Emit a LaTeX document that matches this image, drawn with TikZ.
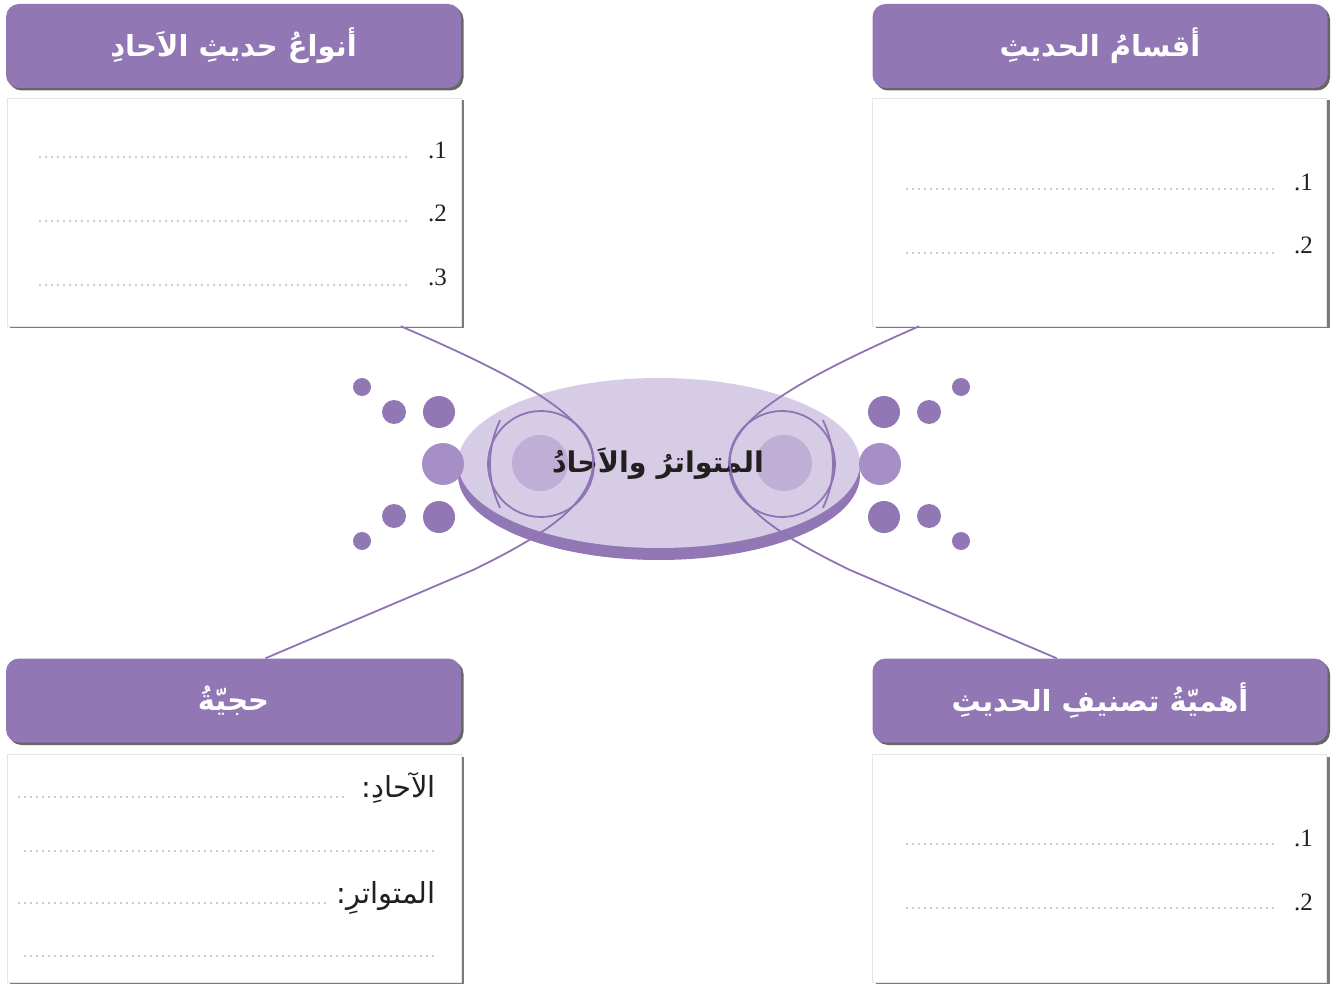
\documentclass[tikz,border=0pt]{standalone}
\usepackage{fontspec}
\usetikzlibrary{shapes.geometric,shadows,calc}
\TeXXeTstate=1
\newfontfamily\arabicfont[Script=Arabic]{DejaVu Sans}
\newfontfamily\numfont{Liberation Serif}
\definecolor{hdrpurple}{HTML}{9277B5}
\definecolor{ellfill}{HTML}{D6CCE5}
\definecolor{innerfill}{HTML}{BFAED5}
\definecolor{middot}{HTML}{A68FC6}
\definecolor{linepurple}{HTML}{8F73B3}
\definecolor{dotgray}{HTML}{9A9A9A}
\definecolor{ink}{HTML}{231F20}
\tikzset{
  hdrbox/.style={rounded corners=13pt, fill=hdrpurple, minimum width=455pt, minimum height=84pt, inner sep=0pt, text=white,
    font=\arabicfont\bfseries\fontsize{29}{34}\selectfont,
    drop shadow={shadow xshift=2.5pt, shadow yshift=-2.5pt, opacity=0.6, fill=black}},
  bodybox/.style={fill=white, draw=black!10, line width=0.6pt, minimum width=454pt, minimum height=228pt, inner sep=0pt,
    drop shadow={shadow xshift=3pt, shadow yshift=-2.5pt, opacity=0.65, fill=black!80}},
  dotline/.style={draw=dotgray, line width=1.8pt, line cap=round, dash pattern=on 0pt off 6pt},
  numlabel/.style={font=\numfont\fontsize{25}{28}\selectfont, text=ink, anchor=base east, inner sep=0pt},
  bodytext/.style={font=\arabicfont\fontsize{29}{32}\selectfont, text=ink, anchor=base east, inner sep=0pt},
  conn/.style={draw=linepurple, line width=1.8pt},
  ring/.style={circle, draw=linepurple, line width=1.8pt, inner sep=0pt, minimum size=#1},
  blob/.style={circle, fill=innerfill, inner sep=0pt, minimum size=#1},
  bigdot/.style={circle, fill=hdrpurple, inner sep=0pt, minimum size=#1},
  middotst/.style={circle, fill=middot, inner sep=0pt, minimum size=#1},
}
\begin{document}
\begin{tikzpicture}[x=1pt,y=-1pt]
\useasboundingbox (0,0) rectangle (1331,984);

% ---------- boxes ----------
\node[hdrbox] (tlh) at (233.5,46) {\beginR أنواعُ حديثِ الاَحادِ\endR};
\node[hdrbox] (trh) at (1100,46) {\beginR أقسامُ الحديثِ\endR};
\node[bodybox] (tlb) at (234,212) {};
\node[bodybox] (trb) at (1099.5,212) {};

% ---------- centre ----------
\node[ellipse, fill=hdrpurple, minimum width=402pt, minimum height=170pt, inner sep=0pt] (cband) at (659,475) {};
\node[ellipse, fill=ellfill, minimum width=402pt, minimum height=170pt, inner sep=0pt] (cell) at (659,463) {};
\node[blob=56pt] (lblob) at (540,463) {};
\node[blob=56pt] (rblob) at (784,463) {};
\node[ring=106pt] (lring) at (541,464) {};
\node[ring=106pt] (rring) at (782,464) {};
\draw[conn] (590,464) ++(154:100) arc[start angle=154, end angle=206, radius=100];
\draw[conn] (733,464) ++(-26:100) arc[start angle=-26, end angle=26, radius=100];

\node[font=\arabicfont\bfseries\fontsize{28.5}{32}\selectfont, text=ink] (ctext) at (658,464) {\beginR المتواترُ والاَحادُ\endR};

% dots left
\node[bigdot=18pt] (dl1) at (362,387) {};
\node[bigdot=24pt] (dl2) at (394,412) {};
\node[bigdot=32pt] (dl3) at (439,412) {};
\node[middotst=42pt] (dl4) at (443,464) {};
\node[bigdot=24pt] (dl5) at (394,516) {};
\node[bigdot=32pt] (dl6) at (439,517) {};
\node[bigdot=18pt] (dl7) at (362,541) {};
% dots right
\node[bigdot=18pt] (dr1) at (961,387) {};
\node[bigdot=24pt] (dr2) at (929,412) {};
\node[bigdot=32pt] (dr3) at (884,412) {};
\node[middotst=42pt] (dr4) at (880,464) {};
\node[bigdot=24pt] (dr5) at (929,516) {};
\node[bigdot=32pt] (dr6) at (884,517) {};
\node[bigdot=18pt] (dr7) at (961,541) {};

% ---------- bottom boxes ----------
\node[hdrbox] (blh) at (233.5,700.5) {\beginR حجيّةُ\endR};
\node[hdrbox] (brh) at (1100,700.5) {\beginR أهميّةُ تصنيفِ الحديثِ\endR};
\node[bodybox] (blb) at (234,868) {};
\node[bodybox] (brb) at (1099.5,868) {};

% ---------- connectors ----------
\draw[conn] ($(tlb.south west)!0.867!(tlb.south east)$) .. controls (545,388) and (596,425) .. (593,465)
  .. controls (590,505) and (545,535) .. (473,570) -- ($(blh.north west)!0.57!(blh.north east)$);
\draw[conn] ($(trb.south west)!0.103!(trb.south east)$) .. controls (778,388) and (727,425) .. (730,465)
  .. controls (733,505) and (778,535) .. (850,570) -- ($(brh.north west)!0.405!(brh.north east)$);

% ---------- top-left contents ----------
\draw[dotline] (40,157) -- (408,157);
\draw[dotline] (40,221) -- (408,221);
\draw[dotline] (40,285) -- (408,285);
\node[numlabel] (n11) at (447,159) {.1};
\node[numlabel] (n12) at (447,222) {.2};
\node[numlabel] (n13) at (447,286) {.3};

% ---------- top-right contents ----------
\draw[dotline] (907,189) -- (1276,189);
\draw[dotline] (907,253) -- (1276,253);
\node[numlabel] (n21) at (1313,191) {.1};
\node[numlabel] (n22) at (1313,254) {.2};

% ---------- bottom-right contents ----------
\draw[dotline] (907,844) -- (1276,844);
\draw[dotline] (907,908) -- (1276,908);
\node[numlabel] (n31) at (1313,846) {.1};
\node[numlabel] (n32) at (1313,910) {.2};

% ---------- bottom-left contents ----------
\node[bodytext] (ahad) at (436,797) {\beginR الآحادِ:\endR};
\draw[dotline] (19,797) -- (345,797);
\draw[dotline] (25,851) -- (433,851);
\node[bodytext] (mutaw) at (436,903) {\beginR المتواترِ:\endR};
\draw[dotline] (19,903) -- (325,903);
\draw[dotline] (25,956) -- (433,956);
\end{tikzpicture}
\end{document}
